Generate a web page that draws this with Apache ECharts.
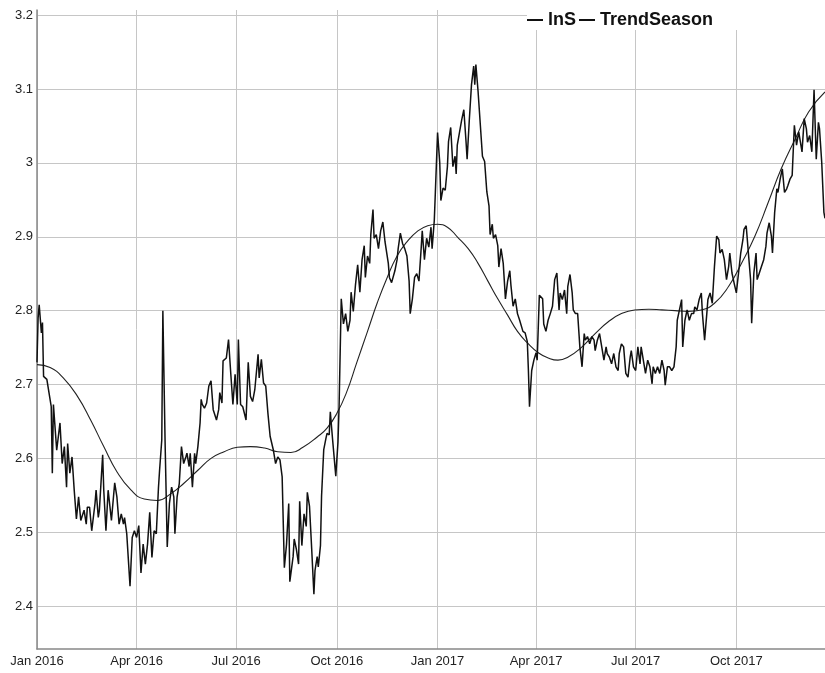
<!DOCTYPE html>
<html>
<head>
<meta charset="utf-8">
<script src="https://cdn.jsdelivr.net/npm/echarts@6/dist/echarts.min.js"></script>
<style>
  html, body { margin: 0; padding: 0; background: #fff; }
  #chart { width: 825px; height: 673px; }
</style>
</head>
<body>
<div id="chart"></div>
<script>
// Series start date; day offsets below count from 1 Jan of this year.
const startYear = 2016;
const lastDay = 720;

// lnS: day offset and value
const lnsDays = [
  0,1,2,4,5,6,9,13,14,15,18,21,23,25,27,28,30,32,34,36,38,40,43,45,46,48,50,53,54,56,57,60,61,63,65,68,71,73,75,77,79,80,82,85,87,89,91,93,95,97,99,101,103,105,107,109,111,112,114,115,117,119,121,123,125,126,128,130,132,134,136,137,139,140,142,144,145,147,149,150,151,153,155,157,159,161,164,166,167,169,170,173,175,177,179,181,183,184,186,188,191,193,195,197,199,202,203,205,207,209,211,213,214,216,218,220,222,224,226,228,230,
  231,234,235,237,239,240,242,244,246,247,249,251,253,254,256,257,259,260,262,264,265,267,268,270,273,275,276,278,279,280,282,284,286,287,289,291,293,295,297,299,300,302,304,305,307,308,310,312,314,316,318,321,322,324,327,329,330,332,334,336,338,340,341,343,345,347,349,351,352,354,356,358,360,361,363,364,366,368,369,371,373,375,376,378,380,382,383,384,386,388,390,392,393,395,397,399,400,401,402,403,405,407,409,411,413,414,416,417,419,421,422,424,426,428,430,432,433,435,437,439,441,443,444,446,448,449,450,452,454,456,457,459,462,463,465,467,469,471,
  473,475,477,478,480,482,484,485,487,489,490,492,494,496,498,500,501,503,505,507,509,510,512,514,516,518,520,521,523,525,527,529,531,532,534,536,538,540,542,543,545,547,549,551,552,554,556,558,560,562,563,565,567,569,571,573,574,576,578,580,582,584,585,587,589,590,592,594,596,598,600,601,603,605,607,608,610,612,613,615,617,619,621,623,624,626,628,630,632,633,635,637,639,641,643,645,646,648,650,652,653,655,657,658,660,662,664,666,667,669,671,672,674,676,677,679,681,683,685,686,688,690,692,694,696,697,699,701,703,704,706,708,710,712,714,715,717,719,720
];
const lnsValues = [
  2.730,2.790,2.808,2.770,2.784,2.711,2.707,2.670,2.580,2.673,2.611,2.648,2.593,2.616,2.561,2.620,2.580,2.602,2.557,2.518,2.548,2.516,2.530,2.511,2.534,2.534,2.502,2.539,2.557,2.520,2.530,2.605,2.557,2.502,2.557,2.516,2.567,2.548,2.511,2.525,2.511,2.520,2.498,2.427,2.493,2.502,2.493,2.509,2.445,2.484,2.457,2.484,2.527,2.466,2.502,2.498,2.561,2.584,2.625,2.800,2.625,2.480,2.539,2.561,2.548,2.498,2.548,2.566,2.616,2.593,2.602,2.607,2.589,2.607,2.561,2.607,2.593,2.616,2.648,2.680,2.673,2.668,2.675,2.698,2.705,2.666,2.652,2.666,2.689,2.675,2.732,2.736,2.761,2.716,2.673,2.714,2.673,2.761,2.673,2.670,2.652,2.730,2.684,2.677,2.693,2.741,2.709,2.734,2.702,2.698,2.661,2.630,2.630,2.611,2.593,2.602,2.598,2.575,2.452,2.484,2.539,
  2.433,2.467,2.491,2.477,2.457,2.542,2.482,2.525,2.508,2.554,2.535,2.477,2.416,2.448,2.467,2.453,2.482,2.549,2.612,2.627,2.634,2.632,2.663,2.627,2.576,2.622,2.670,2.816,2.818,2.782,2.796,2.772,2.787,2.825,2.799,2.835,2.862,2.825,2.869,2.888,2.845,2.874,2.864,2.903,2.937,2.898,2.903,2.884,2.908,2.920,2.893,2.864,2.845,2.838,2.854,2.869,2.884,2.905,2.891,2.884,2.874,2.840,2.796,2.816,2.845,2.850,2.840,2.884,2.908,2.869,2.898,2.886,2.913,2.884,2.922,2.961,3.041,3.000,2.949,2.966,2.963,2.995,3.029,3.048,2.995,3.009,2.985,3.024,3.041,3.058,3.072,3.029,3.005,3.058,3.106,3.131,3.106,3.133,3.135,3.097,3.053,3.009,3.002,2.961,2.942,2.903,2.917,2.898,2.903,2.888,2.859,2.884,2.864,2.816,2.840,2.854,2.835,2.806,2.816,2.796,2.787,2.777,2.772,2.770,2.758,2.719,2.670,2.719,2.733,2.743,2.733,2.821,2.816,2.782,2.772,2.787,2.796,2.806,
  2.842,2.851,2.801,2.824,2.815,2.828,2.796,2.833,2.849,2.824,2.801,2.796,2.796,2.751,2.724,2.769,2.760,2.765,2.755,2.765,2.760,2.746,2.760,2.769,2.751,2.733,2.751,2.742,2.737,2.728,2.742,2.724,2.719,2.742,2.755,2.751,2.715,2.710,2.737,2.746,2.724,2.719,2.751,2.728,2.751,2.733,2.715,2.733,2.724,2.701,2.724,2.715,2.724,2.715,2.733,2.719,2.699,2.724,2.724,2.719,2.724,2.751,2.787,2.801,2.815,2.751,2.787,2.801,2.787,2.796,2.796,2.805,2.801,2.815,2.824,2.796,2.760,2.796,2.815,2.824,2.810,2.860,2.901,2.896,2.878,2.883,2.869,2.842,2.860,2.878,2.851,2.837,2.824,2.851,2.878,2.896,2.910,2.915,2.878,2.842,2.783,2.851,2.878,2.842,2.851,2.860,2.869,2.887,2.905,2.919,2.901,2.878,2.933,2.965,2.960,2.978,2.992,2.960,2.965,2.969,2.978,2.983,3.051,3.024,3.042,3.033,3.015,3.060,3.046,3.028,3.037,3.015,3.099,3.005,3.055,3.046,3.001,2.933,2.925
];

// TrendSeason: day offset and value
const trendDays = [
  0,12,24,37,49,61,73,86,98,110,122,134,147,159,171,183,195,208,220,232,243,256,265,274,283,292,302,311,320,329,338,348,357,366,375,384,394,403,412,421,430,439,449,458,467,476,485,498,510,522,534,546,559,571,583,595,607,619,632,644,656,668,680,693,705,720
];
const trendValues = [
  2.727,2.723,2.709,2.684,2.652,2.616,2.582,2.557,2.545,2.543,2.552,2.566,2.584,2.600,2.609,2.615,2.616,2.614,2.609,2.608,2.615,2.629,2.641,2.661,2.690,2.729,2.772,2.811,2.845,2.874,2.893,2.908,2.915,2.917,2.913,2.900,2.884,2.864,2.840,2.816,2.794,2.772,2.755,2.743,2.736,2.733,2.737,2.751,2.769,2.785,2.796,2.801,2.802,2.801,2.800,2.799,2.801,2.810,2.833,2.865,2.901,2.946,2.992,3.033,3.069,3.096
];

// Axis ticks
const yTicks = [2.4, 2.5, 2.6, 2.7, 2.8, 2.9, 3.0, 3.1, 3.2];
const yMin = 2.342;
const yMax = 3.207;
const xTickMonths = [[2016,0],[2016,3],[2016,6],[2016,9],[2017,0],[2017,3],[2017,6],[2017,9]];
const monthNames = ['Jan','Feb','Mar','Apr','May','Jun','Jul','Aug','Sep','Oct','Nov','Dec'];

const DAY_MS = 86400000;
const t0 = Date.UTC(startYear, 0, 1);
function monthToDay(y, m) { return Math.round((Date.UTC(y, m, 1) - t0) / DAY_MS); }
function dayLabel(d) {
  const dt = new Date(t0 + Math.round(d) * DAY_MS);
  return monthNames[dt.getUTCMonth()] + ' ' + dt.getUTCFullYear();
}
function pairs(days, vals) { return days.map((d, i) => [d, vals[i]]); }

const xTicks = xTickMonths.map(([y, m]) => monthToDay(y, m));

const chart = echarts.init(document.getElementById('chart'), null, { renderer: 'canvas' });
const labelFont = { fontFamily: 'Liberation Sans, Arial, sans-serif', fontSize: 13, color: '#222' };

chart.setOption({
  animation: false,
  backgroundColor: '#fff',
  grid: { left: 37, right: 0, top: 10, bottom: 24, containLabel: false },
  // white panel behind the legend text
  graphic: [{
    type: 'rect', left: 527, top: 10, z: 3, silent: true,
    shape: { width: 298, height: 20 },
    style: { fill: '#fff' }
  }],
  legend: {
    left: 527, top: 10,
    padding: [1, 0, 1, 0],
    itemWidth: 16, itemHeight: 2, itemGap: 3,
    icon: 'rect',
    selectedMode: false,
    z: 4,
    textStyle: { fontFamily: 'Liberation Sans, Arial, sans-serif', fontSize: 18, fontWeight: 'bold', color: '#111' },
    data: ['lnS', 'TrendSeason']
  },
  xAxis: {
    type: 'value',
    min: 0,
    max: lastDay,
    axisLine: { show: true, onZero: false, lineStyle: { color: '#888', width: 1.5 } },
    axisTick: { show: false, customValues: xTicks },
    axisLabel: Object.assign({
      customValues: xTicks,
      margin: 6,
      hideOverlap: false,
      formatter: v => dayLabel(v)
    }, labelFont),
    splitLine: { show: true, lineStyle: { color: '#c6c6c6', width: 1 } }
  },
  yAxis: {
    type: 'value',
    min: yMin, max: yMax,
    axisLine: { show: true, onZero: false, lineStyle: { color: '#888', width: 1.5 } },
    axisTick: { show: false, customValues: yTicks },
    axisLabel: Object.assign({
      customValues: yTicks,
      margin: 4,
      formatter: v => String(Math.round(v * 10) / 10)
    }, labelFont),
    splitLine: { show: true, lineStyle: { color: '#c6c6c6', width: 1 } }
  },
  series: [
    {
      name: 'lnS', type: 'line', showSymbol: false, symbol: 'none',
      color: '#111',
      lineStyle: { color: '#111', width: 1.5 },
      data: pairs(lnsDays, lnsValues),
      z: 3
    },
    {
      name: 'TrendSeason', type: 'line', showSymbol: false, symbol: 'none',
      smooth: 0.5,
      color: '#111',
      lineStyle: { color: '#222', width: 1.1 },
      data: pairs(trendDays, trendValues),
      z: 2
    }
  ]
});
</script>
</body>
</html>
